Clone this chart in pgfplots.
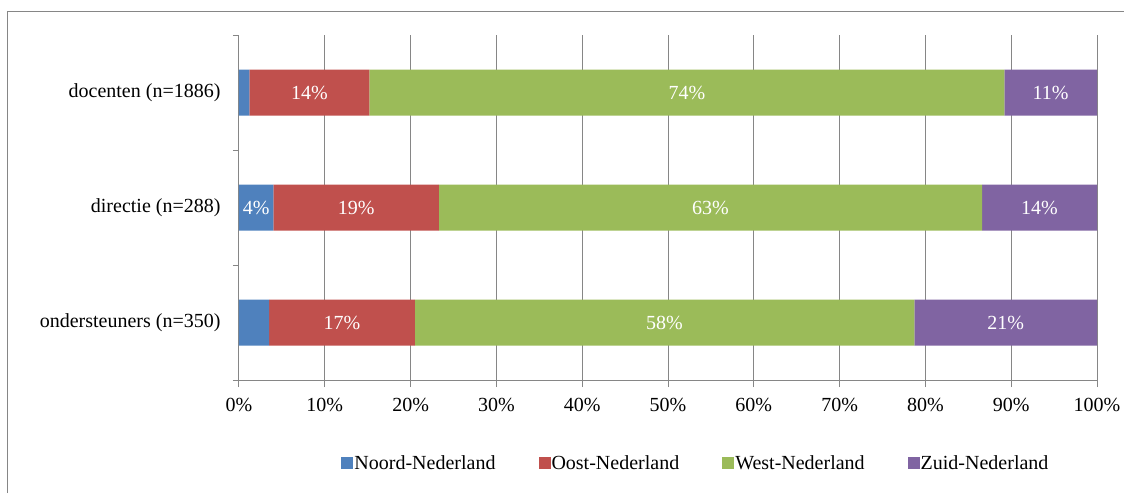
\documentclass[border=0pt]{standalone}
\usepackage{fontspec}
\setmainfont{Liberation Serif}
\usepackage{pgfplots}
\pgfplotsset{compat=1.18}

\definecolor{cNoord}{RGB}{79,129,189}
\definecolor{cOost}{RGB}{192,80,77}
\definecolor{cWest}{RGB}{155,187,89}
\definecolor{cZuid}{RGB}{128,100,162}
\definecolor{gridgray}{RGB}{134,134,134}

\begin{document}
\begin{tikzpicture}[x=1pt,y=1pt,font=\fontsize{20}{24}\selectfont]
% page = 1124 x 493, axis south west at px (239,380)
\useasboundingbox (-239,-113) rectangle (885,380);
\draw[gridgray, line width=1pt] (-231,-113) -- (-231,368) -- (885,368);

\begin{axis}[
    at={(0,0)}, anchor=south west,
    scale only axis, width=858pt, height=345pt,
    xbar stacked, bar width=46pt,
    xmin=0, xmax=100, ymin=-0.5, ymax=2.5,
    axis lines*=left,
    axis line style={draw=gridgray, line width=1pt},
    xtick={0,10,...,100},
    xticklabels={0\%,10\%,20\%,30\%,40\%,50\%,60\%,70\%,80\%,90\%,100\%},
    xmajorgrids, grid style={draw=gridgray, line width=1pt},
    ytick={0,1,2},
    yticklabels={ondersteuners (n=350),directie (n=288),docenten (n=1886)},
    minor ytick={-0.5,0.5,1.5,2.5},
    tick align=outside,
    major tick length=7pt, minor tick length=6pt,
    tick style={draw=gridgray, line width=1pt},
    every major y tick/.style={draw=none},
    yticklabel style={xshift=-8pt},
    xticklabel style={yshift=-8pt},
    point meta=explicit symbolic,
    nodes near coords,
    every node near coord/.style={text=white, font=\fontsize{20}{24}\selectfont},
    legend columns=4,
    legend style={at={(0.532,-0.2406)}, anchor=center, draw=none, fill=none,
        nodes={inner xsep=1pt, inner ysep=1pt},
        /tikz/every even column/.append style={column sep=42pt}},
    legend image code/.code={\fill[#1] (0pt,-6pt) rectangle (12pt,6pt);},
]
\addplot[fill=cNoord, draw=none] coordinates {(3.5,0) [] (4.0,1) [4\%] (1.2,2) []};
\addplot[fill=cOost, draw=none] coordinates {(17.0,0) [17\%] (19.3,1) [19\%] (14.0,2) [14\%]};
\addplot[fill=cWest, draw=none] coordinates {(58.2,0) [58\%] (63.3,1) [63\%] (74.0,2) [74\%]};
\addplot[fill=cZuid, draw=none] coordinates {(21.3,0) [21\%] (13.4,1) [14\%] (10.8,2) [11\%]};
\legend{Noord-Nederland,Oost-Nederland,West-Nederland,Zuid-Nederland}
\end{axis}
\end{tikzpicture}
\end{document}
